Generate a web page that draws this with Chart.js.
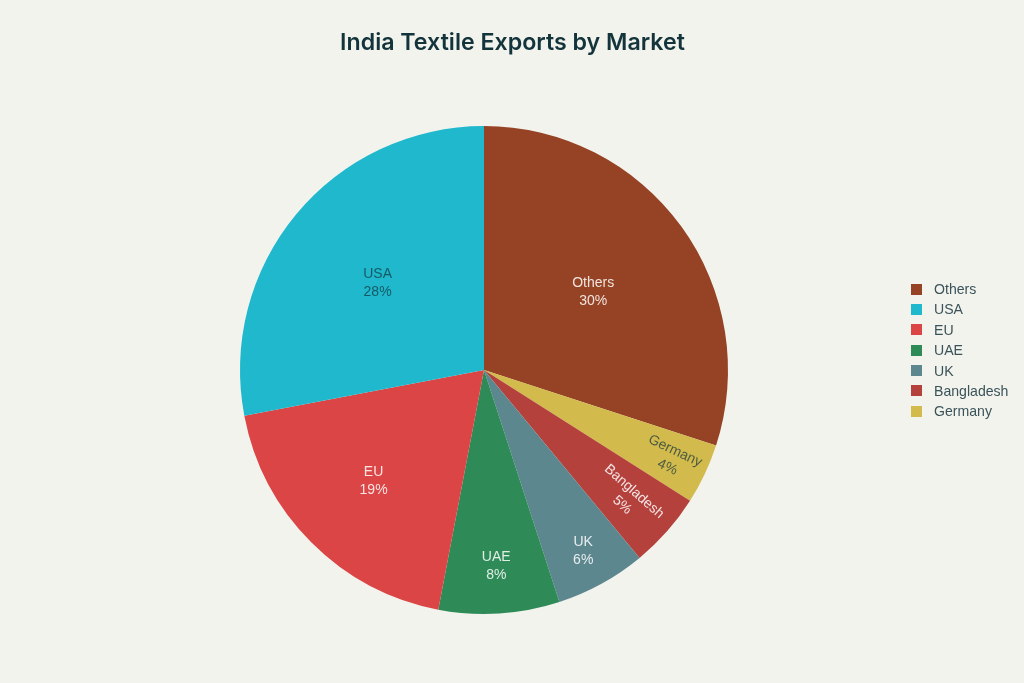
<!DOCTYPE html>
<html>
<head>
<meta charset="utf-8">
<title>India Textile Exports by Market</title>
<script src="https://cdn.jsdelivr.net/npm/chart.js@4/dist/chart.umd.min.js"></script>
<style>
	html, body { margin: 0; padding: 0; background: #F3F3EE; }
	#wrap { position: relative; width: 1024px; height: 683px; overflow: hidden; }
	#title { position: absolute; left: 0; width: 1025px; top: 26px; text-align: center; font: 600 23.2px/32px Inter, sans-serif; color: #13343B; }
	#legend { position: absolute; left: 911px; top: 279px; font: 14.1px/20.4px "Liberation Sans", sans-serif; color: #3A5359; }
	#legend div { position: relative; height: 20.4px; padding-left: 23px; white-space: nowrap; }
	#legend i { position: absolute; left: 0; top: 4.5px; width: 11px; height: 11px; }
</style>
</head>
<body>
<div id="wrap">
	<div id="title">India Textile Exports by Market</div>
	<canvas id="chart" width="1024" height="683"></canvas>
	<div id="legend"></div>
</div>
<script>
	// clockwise from 12 o'clock
	var markets = ['Others', 'Germany', 'Bangladesh', 'UK', 'UAE', 'EU', 'USA'];
	var shares = [30, 4, 5, 6, 8, 19, 28];
	var colors = ['#964325', '#D2BA4C', '#B4413C', '#5D878F', '#2E8B57', '#DB4545', '#1FB8CD'];
	var labelColors = ['#FFFFFF', '#13343B', '#FFFFFF', '#FFFFFF', '#FFFFFF', '#FFFFFF', '#13343B'];
	var legendOrder = ['Others', 'USA', 'EU', 'UAE', 'UK', 'Bangladesh', 'Germany'];

	// where the inside labels sit, as a fraction of the radius
	var labelRadius = [0.553, 0.85, 0.791, 0.844, 0.80, 0.64, 0.566];
	var labelTurned = [false, true, true, false, false, false, false];

	var sliceLabels = {
		id: 'sliceLabels',
		afterDatasetsDraw: function(chart){
			var ctx = chart.ctx;
			var arcs = chart.getDatasetMeta(0).data;
			ctx.save();
			ctx.font = '14px "Liberation Sans", sans-serif';
			ctx.textAlign = 'center';
			ctx.textBaseline = 'middle';
			arcs.forEach(function(arc, i){
				var mid = (arc.startAngle + arc.endAngle) / 2;
				var r = arc.outerRadius * labelRadius[i];
				ctx.save();
				ctx.translate(arc.x + Math.cos(mid) * r, arc.y + Math.sin(mid) * r);
				if(labelTurned[i]) ctx.rotate(mid);
				ctx.fillStyle = labelColors[i];
				ctx.globalAlpha = labelColors[i] == '#FFFFFF' ? 0.85 : 0.72;
				ctx.fillText(markets[i], 0, -8);
				ctx.fillText(shares[i] + '%', 0, 10);
				ctx.restore();
			});
			ctx.restore();
		}
	};

	new Chart(document.getElementById('chart').getContext('2d'), {
		type: 'pie',
		data: {
			labels: markets,
			datasets: [{
				data: shares,
				backgroundColor: colors,
				borderWidth: 0
			}]
		},
		options: {
			responsive: false,
			animation: false,
			layout: { padding: { left: 240, right: 296, top: 126, bottom: 69 } },
			plugins: {
				legend: { display: false },
				tooltip: { enabled: false }
			}
		},
		plugins: [sliceLabels]
	});

	var legendNode = document.getElementById('legend');
	legendOrder.forEach(function(name){
		var row = document.createElement('div');
		var swatch = document.createElement('i');
		swatch.style.background = colors[markets.indexOf(name)];
		row.appendChild(swatch);
		row.appendChild(document.createTextNode(name));
		legendNode.appendChild(row);
	});
</script>
</body>
</html>
